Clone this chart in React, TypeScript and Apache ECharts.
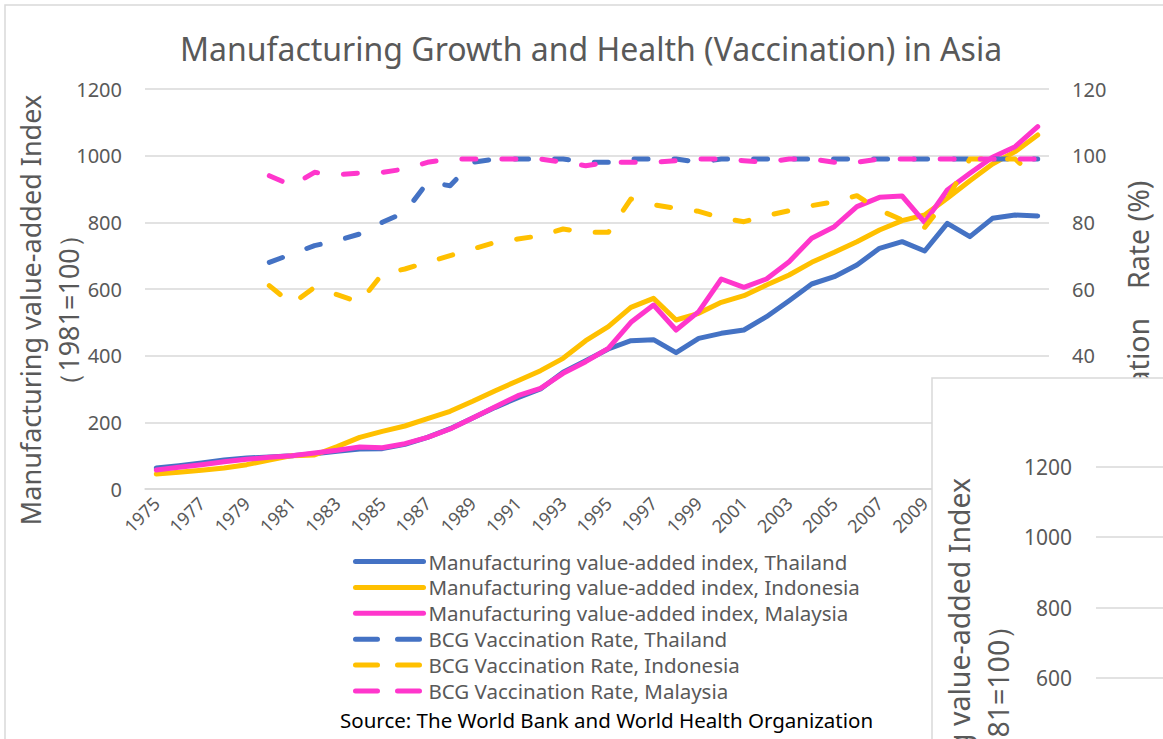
import React, { useEffect, useRef } from "react";
import * as echarts from "echarts";

const years = [
  "1975", "1976", "1977", "1978", "1979", "1980", "1981", "1982", "1983", "1984",
  "1985", "1986", "1987", "1988", "1989", "1990", "1991", "1992", "1993", "1994",
  "1995", "1996", "1997", "1998", "1999", "2000", "2001", "2002", "2003", "2004",
  "2005", "2006", "2007", "2008", "2009", "2010", "2011", "2012", "2013", "2014",
];

const thailandMVA = [
  63, 70, 78, 87, 93, 96, 100, 106, 113, 120,
  121, 134, 155, 181, 213, 245, 274, 300, 350, 385,
  420, 445, 448, 409, 452, 467, 477, 517, 565, 615,
  637, 672, 722, 742, 714, 797, 757, 812, 822, 819,
];
const indonesiaMVA = [
  45, 50, 56, 63, 73, 87, 100, 102, 127, 155,
  173, 189, 211, 233, 263, 295, 325, 355, 392, 445,
  487, 545, 572, 507, 527, 560, 580, 612, 642, 680,
  710, 742, 777, 805, 822, 872, 925, 975, 1012, 1062,
];
const malaysiaMVA = [
  57, 65, 73, 82, 89, 95, 100, 108, 116, 126,
  124, 136, 155, 180, 213, 247, 280, 302, 347, 382,
  422, 500, 552, 477, 532, 630, 605, 630, 682, 752,
  787, 847, 875, 879, 800, 897, 947, 995, 1027, 1087,
];

const thailandBCG = [
  null, null, null, null, null, 68, 70.5, 73, 74.5, 76.5,
  80, 83, 92, 91, 98, 99, 99, 99, 99, 98,
  98, 99, 99, 99, 98, 99, 99, 99, 99, 99,
  99, 99, 99, 99, 99, 99, 99, 99, 99, 99,
];
const indonesiaBCG = [
  null, null, null, null, null, 61, 55.5, 60.5, 58.3, 56,
  64.5, 66, 68, 70, 72, 74, 75, 76, 78, 77,
  77, 87, 85.3, 84.2, 83.3, 81.3, 80.2, 82, 83.5, 85,
  86.2, 88, 83.7, 80.7, 78.5, 87, 99, 99, 99, 93,
];
const malaysiaBCG = [
  null, null, null, null, null, 94, 91, 95, 94.3, 94.8,
  95, 96, 98, 99, 99, 99, 99, 99, 98, 97,
  98, 98, 98, 98.5, 99, 99, 98.5, 98, 99, 99,
  98, 98, 99, 99, 99, 99, 99, 99, 99, 99,
];

const seriesNames = [
  "Manufacturing value-added index, Thailand",
  "Manufacturing value-added index, Indonesia",
  "Manufacturing value-added index, Malaysia",
  "BCG Vaccination Rate, Thailand",
  "BCG Vaccination Rate, Indonesia",
  "BCG Vaccination Rate, Malaysia",
];

const titleText = "Manufacturing Growth and Health (Vaccination) in Asia";
const leftAxisTitle = "Manufacturing value-added Index\n（1981=100）";
const rightAxisTitle = "BCG Vaccination　Rate (%)";
const sourceText = "Source: The World Bank and World Health Organization";

const BLUE = "#4472C4";
const YELLOW = "#FFC000";
const PINK = "#FF36CC";
const GREY = "#595959";
const GRID = "#d9d9d9";
const FONT = "Noto Sans";

const plainNumber = (v: number) => String(v);

export default function App() {
  const ref = useRef<HTMLDivElement>(null);

  useEffect(() => {
    const chart = echarts.init(ref.current as HTMLDivElement, undefined, { renderer: "svg" });

    const solid = (name: string, data: any[], color: string) => ({
      name,
      type: "line",
      data,
      xAxisIndex: 0,
      yAxisIndex: 0,
      symbol: "none",
      z: 2,
      lineStyle: { color, width: 5, cap: "round", join: "round" },
      itemStyle: { color },
    });
    const dashed = (name: string, data: any[], color: string) => ({
      name,
      type: "line",
      data,
      xAxisIndex: 0,
      yAxisIndex: 1,
      symbol: "none",
      z: 2,
      lineStyle: { color, width: 5, type: [14, 26], cap: "round", join: "round" },
      itemStyle: { color },
    });

    const legendSolid = { width: 5, cap: "round" };
    const legendDash = { width: 5, type: [22, 20], cap: "round" };

    const option: any = {
      animation: false,
      backgroundColor: "#ffffff",
      textStyle: { fontFamily: FONT },
      grid: [
        { left: 145, right: 114, top: 89, bottom: 250, outerBoundsMode: "none" },
        { left: 1096, top: 466.5, width: 200, height: 211.6, outerBoundsMode: "none" },
      ],
      xAxis: [
        {
          type: "category",
          data: years,
          gridIndex: 0,
          boundaryGap: true,
          axisLine: { show: true, lineStyle: { color: GRID, width: 1.5 } },
          axisTick: { show: false },
          axisLabel: {
            interval: 1,
            rotate: 45,
            margin: 11,
            color: GREY,
            fontSize: 18,
            fontFamily: FONT,
          },
        },
        {
          type: "category",
          data: years,
          gridIndex: 1,
          show: false,
        },
      ],
      yAxis: [
        {
          type: "value",
          gridIndex: 0,
          min: 0,
          max: 1200,
          interval: 200,
          axisLine: { show: false },
          axisTick: { show: false },
          axisLabel: { color: GREY, fontSize: 20, margin: 23, fontFamily: FONT, formatter: plainNumber },
          splitLine: { lineStyle: { color: GRID, width: 1.5 } },
        },
        {
          type: "value",
          gridIndex: 0,
          position: "right",
          min: 0,
          max: 120,
          interval: 20,
          axisLine: { show: false },
          axisTick: { show: false },
          axisLabel: { color: GREY, fontSize: 20, margin: 23, fontFamily: FONT, formatter: plainNumber },
          splitLine: { show: false },
        },
        {
          type: "value",
          gridIndex: 1,
          min: 600,
          max: 1200,
          interval: 200,
          z: 20,
          axisLine: { show: false },
          axisTick: { show: false },
          axisLabel: { color: GREY, fontSize: 21, margin: 24, fontFamily: FONT, formatter: plainNumber },
          splitLine: { lineStyle: { color: GRID, width: 1.5 } },
        },
      ],
      legend: {
        orient: "vertical",
        left: 348,
        top: 546,
        itemWidth: 68,
        itemHeight: 14,
        itemGap: 4.9,
        itemStyle: { opacity: 0 },
        lineStyle: { width: 5 },
        textStyle: { color: GREY, fontSize: 20.5, lineHeight: 20, fontFamily: FONT },
        data: [
          { name: seriesNames[0], lineStyle: legendSolid },
          { name: seriesNames[1], lineStyle: legendSolid },
          { name: seriesNames[2], lineStyle: legendSolid },
          { name: seriesNames[3], lineStyle: legendDash },
          { name: seriesNames[4], lineStyle: legendDash },
          { name: seriesNames[5], lineStyle: legendDash },
        ],
      },
      graphic: [
        {
          type: "rect",
          z: 0,
          silent: true,
          shape: { x: 5, y: 5, width: 1300, height: 900 },
          style: { fill: "none", stroke: GRID, lineWidth: 1.5 },
        },
        {
          type: "text",
          z: 1,
          x: 591,
          y: 48,
          style: {
            text: titleText,
            fontSize: 32,
            fontFamily: FONT,
            fill: GREY,
            align: "center",
            verticalAlign: "middle",
          },
        },
        {
          type: "text",
          z: 1,
          x: 49,
          y: 310,
          rotation: Math.PI / 2,
          style: {
            text: leftAxisTitle,
            fontSize: 27,
            lineHeight: 38,
            fontFamily: FONT,
            fill: GREY,
            align: "center",
            verticalAlign: "middle",
          },
        },
        {
          type: "text",
          z: 1,
          x: 1138,
          y: 358,
          rotation: Math.PI / 2,
          style: {
            text: rightAxisTitle,
            fontSize: 28.5,
            fontFamily: FONT,
            fill: GREY,
            align: "center",
            verticalAlign: "middle",
          },
        },
        {
          type: "text",
          z: 1,
          x: 340,
          y: 720,
          style: {
            text: sourceText,
            fontSize: 20.5,
            fontFamily: FONT,
            fill: "#000000",
            align: "left",
            verticalAlign: "middle",
          },
        },
        {
          type: "rect",
          z: 10,
          silent: true,
          shape: { x: 932, y: 378, width: 400, height: 500 },
          style: { fill: "#ffffff", stroke: GRID, lineWidth: 1.5 },
        },
        {
          type: "text",
          z: 30,
          x: 978,
          y: 705,
          rotation: Math.PI / 2,
          style: {
            text: leftAxisTitle,
            fontSize: 28.5,
            lineHeight: 39,
            fontFamily: FONT,
            fill: GREY,
            align: "center",
            verticalAlign: "middle",
          },
        },
      ],
      series: [
        solid(seriesNames[0], thailandMVA, BLUE),
        solid(seriesNames[1], indonesiaMVA, YELLOW),
        solid(seriesNames[2], malaysiaMVA, PINK),
        dashed(seriesNames[3], thailandBCG, BLUE),
        dashed(seriesNames[4], indonesiaBCG, YELLOW),
        dashed(seriesNames[5], malaysiaBCG, PINK),
        {
          type: "line",
          xAxisIndex: 1,
          yAxisIndex: 2,
          data: [],
          silent: true,
        },
      ],
    };

    chart.setOption(option);
    return () => {
      chart.dispose();
    };
  }, []);

  return (
    <div
      ref={ref}
      style={{ position: "absolute", left: 0, top: 0, width: 1163, height: 739 }}
    />
  );
}
